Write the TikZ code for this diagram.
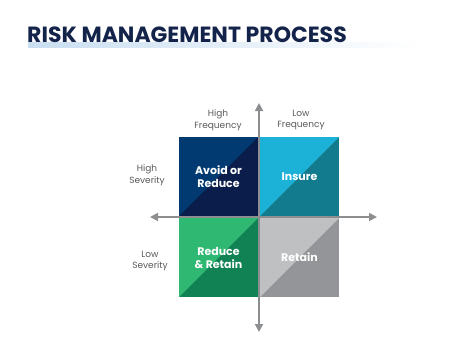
\documentclass[tikz,border=0pt]{standalone}
\usepackage{fontspec}
\setmainfont{Poppins}
\usetikzlibrary{arrows.meta}
\definecolor{titlecol}{HTML}{13234A}
\definecolor{titleband}{HTML}{C9DEF1}
\definecolor{avoidlight}{HTML}{003A70}
\definecolor{avoiddark}{HTML}{0B1D4A}
\definecolor{insurelight}{HTML}{1CB1D6}
\definecolor{insuredark}{HTML}{127B8E}
\definecolor{reducelight}{HTML}{2EB872}
\definecolor{reducedark}{HTML}{118253}
\definecolor{retainlight}{HTML}{BFC0C2}
\definecolor{retaindark}{HTML}{949598}
\definecolor{axisgray}{HTML}{8C8E90}
\definecolor{labelgray}{HTML}{58595B}

\begin{document}
\begin{tikzpicture}[x=1pt, y=-1pt,
  quad/.style 2 args={minimum size=79pt, inner sep=0pt, fill=#2, text=white,
    font=\bfseries\fontsize{11}{13}\selectfont, align=center,
    path picture={\fill[#1] (path picture bounding box.north west) -- (path picture bounding box.north east) -- (path picture bounding box.south west) -- cycle;}},
  axislbl/.style={text=labelgray, font=\fontsize{9}{11.5}\selectfont, align=center},
  axis/.style={-{Triangle[length=8pt,width=8pt]}, line width=1.8pt, draw=axisgray}]
  \useasboundingbox (0,0) rectangle (460,341);
  % title
  \fill[left color=titleband, right color=white] (28,42) rectangle (420,47);
  \node[anchor=west, inner sep=0pt, text=titlecol, font=\bfseries\fontsize{22}{26}\selectfont] (title) at (27,35) {RISK MANAGEMENT PROCESS};
  % quadrants
  \node[quad={avoidlight}{avoiddark}] (avoid) at (218.5,176.5) {Avoid or\\Reduce};
  \node[quad={insurelight}{insuredark}] (insure) at (299.5,176.5) {Insure};
  \node[quad={reducelight}{reducedark}] (reduce) at (218.5,257.5) {Reduce\\\& Retain};
  \node[quad={retainlight}{retaindark}] (retain) at (299.5,257.5) {Retain};
  % axes
  \coordinate (O) at (259,217);
  \coordinate (L) at (150,217);
  \coordinate (R) at (377,217);
  \coordinate (U) at (259,103);
  \coordinate (D) at (259,332);
  \draw[axis] (O) -- (L);
  \draw[axis] (O) -- (R);
  \draw[axis] (O) -- (U);
  \draw[axis] (O) -- (D);
  % labels
  \node[axislbl] (hifreq) at (218,120) {High\\Frequency};
  \node[axislbl] (lofreq) at (301,120) {Low\\Frequency};
  \node[axislbl] (hisev) at (147,175) {High\\Severity};
  \node[axislbl] (losev) at (150,261) {Low\\Severity};
\end{tikzpicture}
\end{document}
